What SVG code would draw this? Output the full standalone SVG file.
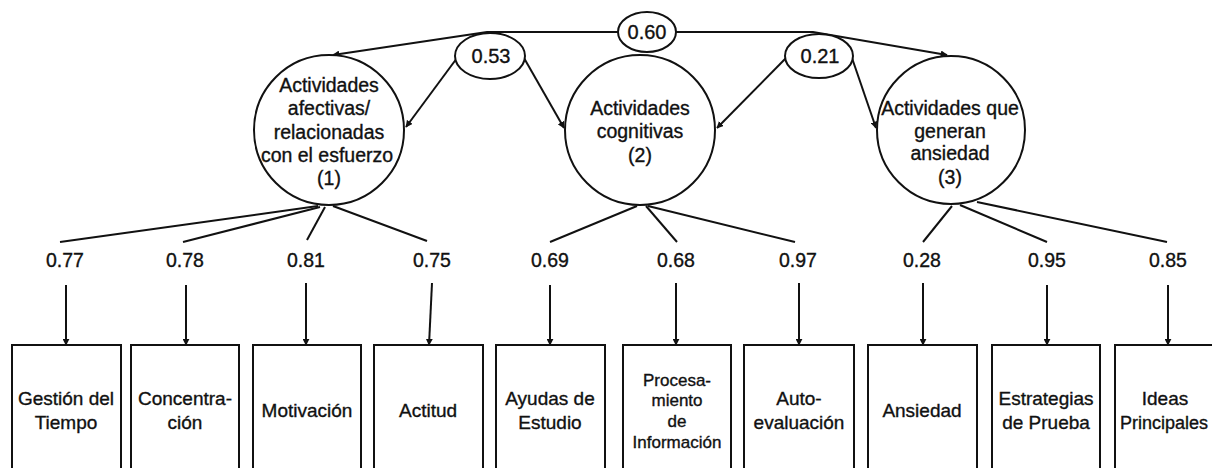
<svg xmlns="http://www.w3.org/2000/svg" width="1212" height="468" viewBox="0 0 1212 468">
  <style>
    text { font-family: "Liberation Sans", Arial, sans-serif; fill: #111; stroke: #111; stroke-width: 0.35; text-anchor: middle; }
    .lat { font-size: 19.5px; }
    .cov { font-size: 20px; }
    .ld { font-size: 19.5px; }
    .obs { font-size: 19px; }
    .obs-sm { font-size: 17px; }
    .shape { fill: #fff; stroke: #111; stroke-width: 2; }
    .edge { fill: none; stroke: #111; stroke-width: 2; }
    .arr { marker-end: url(#head); }
  </style>
  <defs>
    <marker id="head" viewBox="0 0 10 10" refX="9" refY="5" markerWidth="7" markerHeight="7" markerUnits="userSpaceOnUse" orient="auto">
      <path d="M0,0 L10,5 L0,10 Z" fill="#111"/>
    </marker>
  </defs>

  <rect width="1212" height="468" fill="#fff"/>

  <!-- connectors -->
  <g id="connectors">
    <!-- covariance 0.60 between factors 1 and 3 -->
    <path class="edge arr" d="M618,32 L487,32 L333,55"/>
    <path class="edge arr" d="M676,32 L813,32 L947,55"/>
    <!-- covariance 0.53 between factors 1 and 2 -->
    <path class="edge arr" d="M457,58 L406,127"/>
    <path class="edge arr" d="M524,58 L564,128"/>
    <!-- covariance 0.21 between factors 2 and 3 -->
    <path class="edge arr" d="M786,58 L717,128"/>
    <path class="edge arr" d="M852,58 L876,128"/>
    <!-- loadings, factor 1 -->
    <path class="edge" d="M318,206 L60,242"/>
    <path class="edge" d="M320,207 L183,242"/>
    <path class="edge" d="M325,207 L307,240"/>
    <path class="edge" d="M333,206 L427,241"/>
    <!-- loadings, factor 2 -->
    <path class="edge" d="M637,206 L550,242"/>
    <path class="edge" d="M646,206 L677,242"/>
    <path class="edge" d="M648,206 L795,242"/>
    <!-- loadings, factor 3 -->
    <path class="edge" d="M952,206 L923,242"/>
    <path class="edge" d="M960,205 L1047,242"/>
    <path class="edge" d="M977,202 L1167,242"/>
    <!-- arrows into indicators -->
    <path class="edge arr" d="M66,285 L66,345"/>
    <path class="edge arr" d="M186,285 L186,345"/>
    <path class="edge arr" d="M306,283 L306,345"/>
    <path class="edge arr" d="M432,283 L429,345"/>
    <path class="edge arr" d="M550,285 L550,345"/>
    <path class="edge arr" d="M676,283 L676,345"/>
    <path class="edge arr" d="M799,283 L799,345"/>
    <path class="edge arr" d="M923,283 L923,345"/>
    <path class="edge arr" d="M1047,285 L1047,345"/>
    <path class="edge arr" d="M1168,285 L1168,345"/>
  </g>

  <!-- covariance labels -->
  <g id="cov-060">
    <ellipse class="shape" cx="647" cy="32" rx="29" ry="20"/>
    <text class="cov" x="647" y="39">0.60</text>
  </g>
  <g id="cov-053">
    <ellipse class="shape" cx="490" cy="56" rx="35" ry="23"/>
    <text class="cov" x="491" y="63">0.53</text>
  </g>
  <g id="cov-021">
    <ellipse class="shape" cx="819" cy="56" rx="34" ry="22"/>
    <text class="cov" x="820" y="63">0.21</text>
  </g>

  <!-- latent factors -->
  <g id="factor-1">
    <circle class="shape" cx="329" cy="130" r="75"/>
    <text class="lat" x="329" y="92">Actividades</text>
    <text class="lat" x="329" y="115">afectivas/</text>
    <text class="lat" x="329" y="139">relacionadas</text>
    <text class="lat" x="327" y="162">con el esfuerzo</text>
    <text class="lat" x="329" y="185">(1)</text>
  </g>
  <g id="factor-2">
    <circle class="shape" cx="640" cy="130" r="75"/>
    <text class="lat" x="640" y="115">Actividades</text>
    <text class="lat" x="640" y="138">cognitivas</text>
    <text class="lat" x="640" y="162">(2)</text>
  </g>
  <g id="factor-3">
    <circle class="shape" cx="951" cy="130" r="74"/>
    <text class="lat" x="950" y="115">Actividades que</text>
    <text class="lat" x="950" y="138">generan</text>
    <text class="lat" x="950" y="160">ansiedad</text>
    <text class="lat" x="950" y="184">(3)</text>
  </g>

  <!-- loading values -->
  <g id="loadings">
    <text class="ld" x="65" y="267">0.77</text>
    <text class="ld" x="185" y="267">0.78</text>
    <text class="ld" x="306" y="267">0.81</text>
    <text class="ld" x="432" y="267">0.75</text>
    <text class="ld" x="550" y="267">0.69</text>
    <text class="ld" x="676" y="267">0.68</text>
    <text class="ld" x="798" y="267">0.97</text>
    <text class="ld" x="922" y="267">0.28</text>
    <text class="ld" x="1047" y="267">0.95</text>
    <text class="ld" x="1168" y="267">0.85</text>
  </g>

  <!-- observed indicators -->
  <g id="ind-gestion">
    <rect class="shape" x="12" y="345" width="109" height="140"/>
    <text class="obs" x="66" y="405">Gestión del</text>
    <text class="obs" x="66" y="429">Tiempo</text>
  </g>
  <g id="ind-concentracion">
    <rect class="shape" x="131" y="345" width="108" height="140"/>
    <text class="obs" x="185" y="405">Concentra-</text>
    <text class="obs" x="185" y="429">ción</text>
  </g>
  <g id="ind-motivacion">
    <rect class="shape" x="253" y="345" width="108" height="140"/>
    <text class="obs" x="307" y="417">Motivación</text>
  </g>
  <g id="ind-actitud">
    <rect class="shape" x="374" y="345" width="109" height="140"/>
    <text class="obs" x="428" y="417">Actitud</text>
  </g>
  <g id="ind-ayudas">
    <rect class="shape" x="496" y="345" width="109" height="140"/>
    <text class="obs" x="550" y="405">Ayudas de</text>
    <text class="obs" x="550" y="429">Estudio</text>
  </g>
  <g id="ind-procesamiento">
    <rect class="shape" x="623" y="345" width="108" height="140"/>
    <text class="obs-sm" x="677" y="386">Procesa-</text>
    <text class="obs-sm" x="677" y="406">miento</text>
    <text class="obs-sm" x="677" y="427">de</text>
    <text class="obs-sm" x="677" y="448">Información</text>
  </g>
  <g id="ind-autoevaluacion">
    <rect class="shape" x="744" y="345" width="110" height="140"/>
    <text class="obs" x="799" y="405">Auto-</text>
    <text class="obs" x="799" y="429">evaluación</text>
  </g>
  <g id="ind-ansiedad">
    <rect class="shape" x="868" y="345" width="109" height="140"/>
    <text class="obs" x="922" y="417">Ansiedad</text>
  </g>
  <g id="ind-estrategias">
    <rect class="shape" x="992" y="345" width="108" height="140"/>
    <text class="obs" x="1046" y="405">Estrategias</text>
    <text class="obs" x="1046" y="429">de Prueba</text>
  </g>
  <g id="ind-ideas">
    <rect class="shape" x="1115" y="345" width="109" height="140"/>
    <text class="obs" x="1165" y="405">Ideas</text>
    <text class="obs" x="1164" y="429" style="font-size:18px">Principales</text>
  </g>
</svg>
